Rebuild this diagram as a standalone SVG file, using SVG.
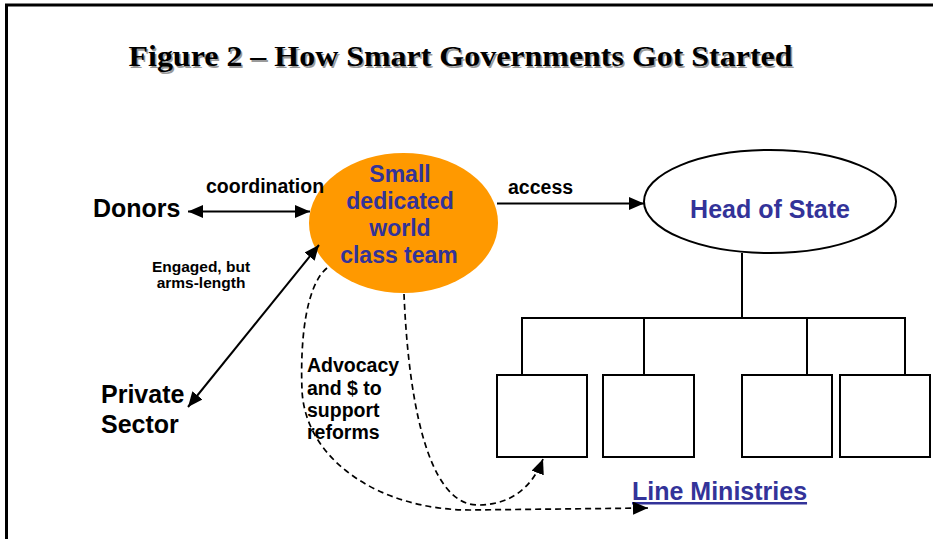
<svg xmlns="http://www.w3.org/2000/svg" width="933" height="539" viewBox="0 0 933 539">
  <style>
    .lbl { font-family: "Liberation Sans", Arial, sans-serif; font-weight: bold; fill: #000; }
    .blue { font-family: "Liberation Sans", Arial, sans-serif; font-weight: bold; fill: #333399; }
    .solid { fill: none; stroke: #000; stroke-width: 2; }
    .dash { fill: none; stroke: #000; stroke-width: 1.7; stroke-dasharray: 6 4; }
    .box { fill: #fff; stroke: #000; stroke-width: 2; }
    .tree { fill: none; stroke: #000; stroke-width: 2; }
  </style>
  <defs>
    <marker id="head" viewBox="0 0 15 13" refX="15" refY="6.5" markerWidth="15" markerHeight="13" markerUnits="userSpaceOnUse" orient="auto-start-reverse">
      <path d="M0,0 L15,6.5 L0,13 z" fill="#000"/>
    </marker>
  </defs>

  <rect width="933" height="539" fill="#fff"/>

  <!-- page frame -->
  <path d="M6.5,539 V5 H933" fill="none" stroke="#000" stroke-width="3"/>

  <!-- title with drop shadow -->
  <g id="title" font-family="'Liberation Serif', 'Times New Roman', serif" font-weight="bold" font-size="30">
    <text x="130" y="67.5" fill="#9a9a9a" textLength="664" lengthAdjust="spacingAndGlyphs">Figure 2 – How Smart Governments Got Started</text>
    <text x="128.5" y="66" fill="#000" textLength="664" lengthAdjust="spacingAndGlyphs">Figure 2 – How Smart Governments Got Started</text>
  </g>

  <g id="donors">
    <text class="lbl" x="93" y="217" font-size="25">Donors</text>
  </g>

  <g id="private-sector">
    <text class="lbl" x="101" y="403" font-size="25">Private</text>
    <text class="lbl" x="101" y="433" font-size="25">Sector</text>
  </g>

  <g id="team">
    <ellipse cx="403.5" cy="223" rx="94.5" ry="70" fill="#FF9900"/>
    <g class="blue" font-size="23" text-anchor="middle">
      <text x="400" y="182">Small</text>
      <text x="400" y="209">dedicated</text>
      <text x="400" y="236">world</text>
      <text x="399" y="263">class team</text>
    </g>
  </g>

  <g id="head-of-state">
    <ellipse cx="770" cy="201.5" rx="126" ry="51.5" fill="#fff" stroke="#000" stroke-width="2"/>
    <text class="blue" x="770" y="218" font-size="25" text-anchor="middle">Head of State</text>
  </g>

  <g id="ministry-1"><rect class="box" x="497" y="375" width="90" height="82"/></g>
  <g id="ministry-2"><rect class="box" x="603" y="375" width="91" height="82"/></g>
  <g id="ministry-3"><rect class="box" x="742" y="375" width="90" height="82"/></g>
  <g id="ministry-4"><rect class="box" x="840" y="375" width="90" height="82"/></g>

  <g id="line-ministries">
    <text class="blue" x="632" y="500" font-size="25" text-decoration="underline">Line Ministries</text>
  </g>

  <g id="connectors">
    <!-- org tree -->
    <path class="tree" d="M742,253 V318 M522,375 V318 H905 V375 M644,318 V375 M807,318 V375"/>

    <!-- donors <-> team -->
    <line class="solid" x1="188" y1="211.5" x2="310" y2="211.5" marker-start="url(#head)" marker-end="url(#head)"/>
    <text class="lbl" x="206" y="193" font-size="19.5">coordination</text>

    <!-- private sector <-> team -->
    <line class="solid" x1="188" y1="407" x2="319" y2="245" marker-start="url(#head)" marker-end="url(#head)"/>
    <text class="lbl" x="201" y="272" font-size="15.5" text-anchor="middle">Engaged, but</text>
    <text class="lbl" x="201" y="288" font-size="15.5" text-anchor="middle">arms-length</text>

    <!-- team -> head of state -->
    <line class="solid" x1="497" y1="203.5" x2="644" y2="203.5" marker-end="url(#head)"/>
    <text class="lbl" x="508" y="194" font-size="19.5">access</text>

    <!-- team -> line ministries (dashed) -->
    <path class="dash" d="M404,294 C408,390 425,505 478,505 C510,505 532,488 543,459" marker-end="url(#head)"/>
    <path class="dash" d="M327,268 C306,285 300,340 302,390 C305,460 380,510 470,510 L648,508" marker-end="url(#head)"/>

    <g class="lbl" font-size="19.5">
      <text x="307" y="372">Advocacy</text>
      <text x="307" y="395">and $ to</text>
      <text x="307" y="417">support</text>
      <text x="307" y="439">reforms</text>
    </g>
  </g>
</svg>
